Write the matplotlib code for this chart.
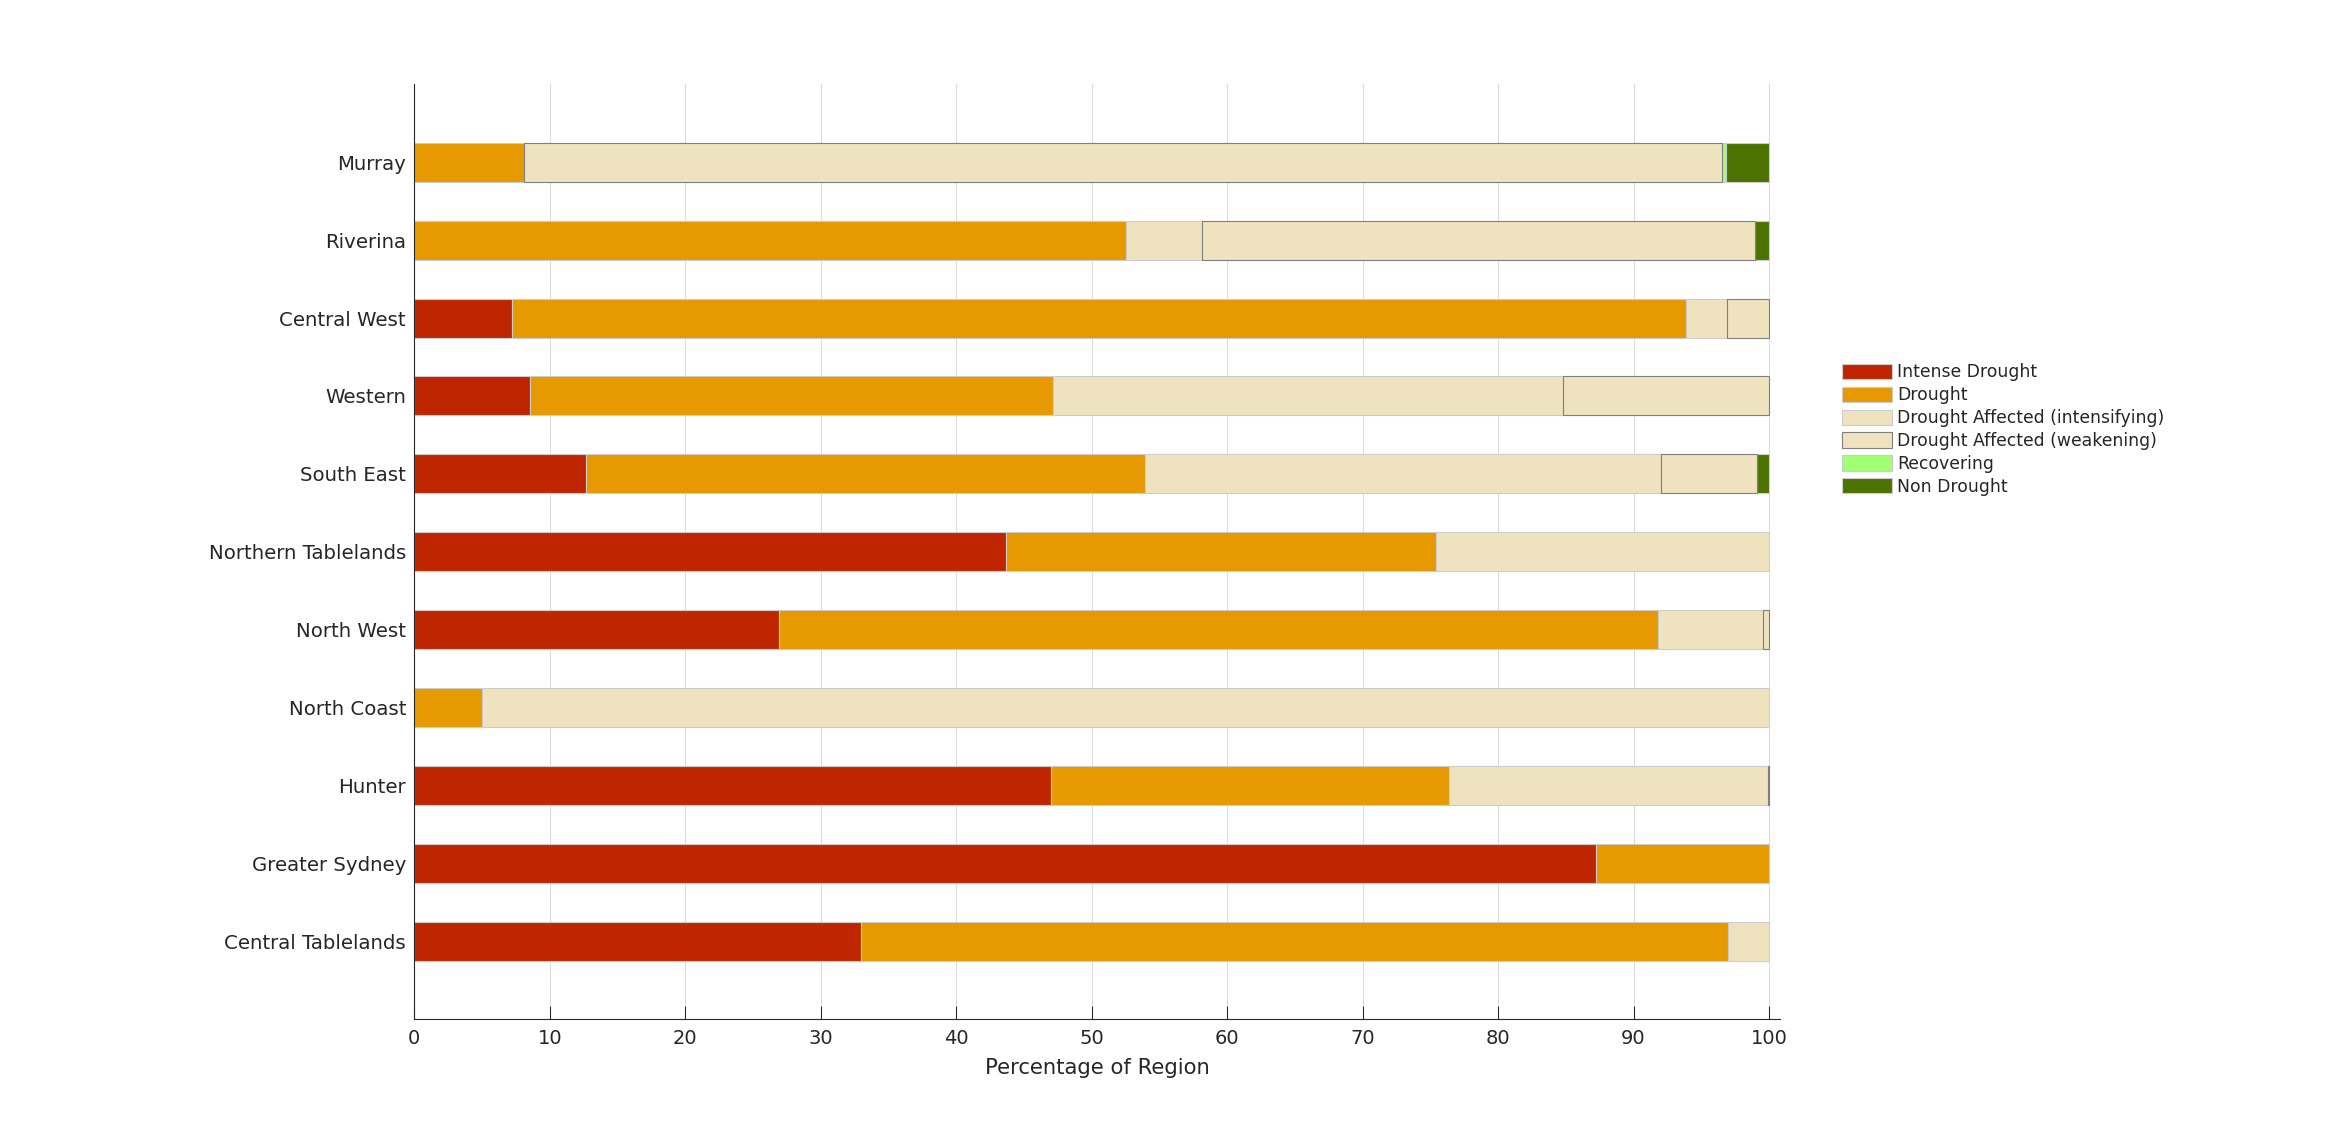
import numpy as np
import matplotlib
matplotlib.use("Agg")
import matplotlib.pyplot as plt

# regiuni de sus in jos, procente din suprafata
regiuni = ["Murray", "Riverina", "Central West", "Western", "South East",
           "Northern Tablelands", "North West", "North Coast", "Hunter",
           "Greater Sydney", "Central Tablelands"]

intense_drought = [0, 0, 7.2, 8.55, 12.7, 43.7, 26.95, 0, 47.0, 87.2, 33.0]
drought = [8.1, 52.5, 86.65, 38.6, 41.2, 31.7, 64.85, 5.0, 29.4, 12.8, 64.0]
affected_intens = [0, 5.65, 3.05, 37.65, 38.1, 24.6, 7.75, 95.0, 23.5, 0, 3.0]
affected_weak = [88.4, 40.8, 3.1, 15.2, 7.1, 0, 0.45, 0, 0.1, 0, 0]
recovering = [0.35, 0, 0, 0, 0, 0, 0, 0, 0, 0, 0]
non_drought = [3.15, 1.05, 0, 0, 0.9, 0, 0, 0, 0, 0, 0]

categorii = ["Intense Drought", "Drought", "Drought Affected (intensifying)",
             "Drought Affected (weakening)", "Recovering", "Non Drought"]
culori = ["#bf2600", "#e69900", "#efe3bf", "#efe3bf", "#a0ff73", "#4c7300"]
margini = ["#cccccc", "#cccccc", "#cccccc", "#7f7f7f", "#cccccc", "#cccccc"]

TEXT = "#262626"

def main():
    plt.rcParams["font.family"] = ["DejaVu Sans"]
    serii = [intense_drought, drought, affected_intens, affected_weak,
             recovering, non_drought]

    fig = plt.figure(figsize=(23.49, 11.26), dpi=100)
    ax = fig.add_axes([0.1764, 0.0948, 0.5813, 0.8303])

    y = np.arange(len(regiuni), 0, -1)
    stanga = np.zeros(len(regiuni))
    handles = []
    for vals, nume, c, ec in zip(serii, categorii, culori, margini):
        vals = np.array(vals, dtype=float)
        m = vals > 0  # segmentele de 0 nu se deseneaza
        z = 3 if ec == "#7f7f7f" else 2
        h = ax.barh(y[m], vals[m], height=0.5, left=stanga[m], color=c,
                    edgecolor=ec, linewidth=0.8, label=nume, zorder=z)
        handles.append(h)
        stanga += vals

    ax.set_xlim(0, 100.8)
    ax.set_ylim(0, 12)
    ax.set_xticks(np.arange(0, 101, 10))
    ax.set_yticks(y)
    ax.set_yticklabels(regiuni)
    ax.tick_params(axis="x", direction="in", length=9.5, width=0.75,
                   color=TEXT, labelcolor=TEXT, labelsize=14, pad=7)
    ax.tick_params(axis="y", length=0, labelcolor=TEXT, labelsize=14.2, pad=6)
    ax.xaxis.grid(True, color="#dcdcdc", linewidth=0.8)
    ax.set_axisbelow(True)
    for s in ["top", "right"]:
        ax.spines[s].set_visible(False)
    for s in ["left", "bottom"]:
        ax.spines[s].set_color(TEXT)
        ax.spines[s].set_linewidth(0.8)

    ax.set_xlabel("Percentage of Region", fontsize=15.2, color=TEXT, labelpad=7)

    leg = fig.legend(handles, categorii, loc="upper left",
                     bbox_to_anchor=(0.784, 0.6772), frameon=False,
                     fontsize=12.4, handlelength=2.92, handleheight=1.0,
                     handletextpad=0.3, labelspacing=0.28,
                     borderpad=0, borderaxespad=0)
    for t in leg.get_texts():
        t.set_color(TEXT)

    fig.savefig("out.png", dpi=100)


if __name__ == "__main__":
    main()
